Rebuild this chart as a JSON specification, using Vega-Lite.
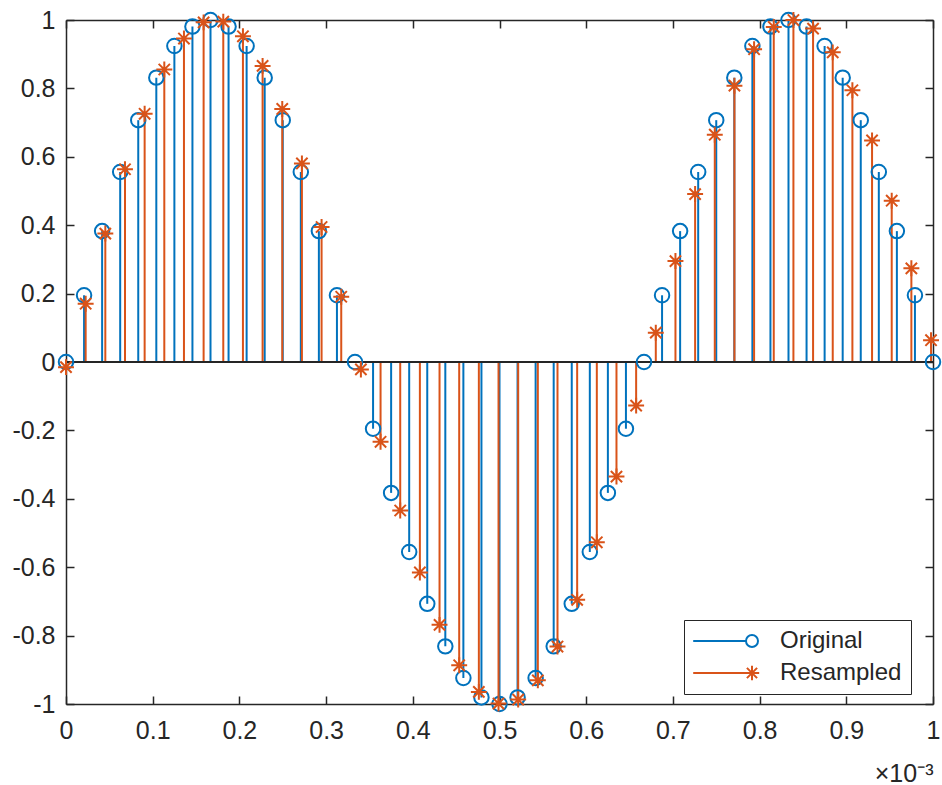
{
  "$schema": "https://vega.github.io/schema/vega-lite/v6.json",
  "width": 867,
  "height": 684,
  "autosize": "none",
  "padding": {"left": 66, "top": 20, "right": 9, "bottom": 81},
  "background": "white",
  "config": {
    "view": {"stroke": null},
    "font": "Liberation Sans",
    "axis": {
      "grid": false,
      "domainColor": "#262626",
      "domainWidth": 1.5,
      "tickColor": "#262626",
      "tickWidth": 1.5,
      "tickSize": -8,
      "labelColor": "#262626",
      "labelFont": "Liberation Sans",
      "labelFontSize": 25,
      "labelFlush": false,
      "labelOverlap": false,
      "titleColor": "#262626",
      "titleFont": "Liberation Sans",
      "titleFontWeight": "normal"
    }
  },
  "data": {
    "values": [
      {"series": "Original", "t": 0, "v": 0},
      {"series": "Original", "t": 0.020833, "v": 0.1951},
      {"series": "Original", "t": 0.041667, "v": 0.3827},
      {"series": "Original", "t": 0.0625, "v": 0.5556},
      {"series": "Original", "t": 0.083333, "v": 0.7071},
      {"series": "Original", "t": 0.104167, "v": 0.8315},
      {"series": "Original", "t": 0.125, "v": 0.9239},
      {"series": "Original", "t": 0.145833, "v": 0.9808},
      {"series": "Original", "t": 0.166667, "v": 1},
      {"series": "Original", "t": 0.1875, "v": 0.9808},
      {"series": "Original", "t": 0.208333, "v": 0.9239},
      {"series": "Original", "t": 0.229167, "v": 0.8315},
      {"series": "Original", "t": 0.25, "v": 0.7071},
      {"series": "Original", "t": 0.270833, "v": 0.5556},
      {"series": "Original", "t": 0.291667, "v": 0.3827},
      {"series": "Original", "t": 0.3125, "v": 0.1951},
      {"series": "Original", "t": 0.333333, "v": 0},
      {"series": "Original", "t": 0.354167, "v": -0.1951},
      {"series": "Original", "t": 0.375, "v": -0.3827},
      {"series": "Original", "t": 0.395833, "v": -0.5556},
      {"series": "Original", "t": 0.416667, "v": -0.7071},
      {"series": "Original", "t": 0.4375, "v": -0.8315},
      {"series": "Original", "t": 0.458333, "v": -0.9239},
      {"series": "Original", "t": 0.479167, "v": -0.9808},
      {"series": "Original", "t": 0.5, "v": -1},
      {"series": "Original", "t": 0.520833, "v": -0.9808},
      {"series": "Original", "t": 0.541667, "v": -0.9239},
      {"series": "Original", "t": 0.5625, "v": -0.8315},
      {"series": "Original", "t": 0.583333, "v": -0.7071},
      {"series": "Original", "t": 0.604167, "v": -0.5556},
      {"series": "Original", "t": 0.625, "v": -0.3827},
      {"series": "Original", "t": 0.645833, "v": -0.1951},
      {"series": "Original", "t": 0.666667, "v": 0},
      {"series": "Original", "t": 0.6875, "v": 0.1951},
      {"series": "Original", "t": 0.708333, "v": 0.3827},
      {"series": "Original", "t": 0.729167, "v": 0.5556},
      {"series": "Original", "t": 0.75, "v": 0.7071},
      {"series": "Original", "t": 0.770833, "v": 0.8315},
      {"series": "Original", "t": 0.791667, "v": 0.9239},
      {"series": "Original", "t": 0.8125, "v": 0.9808},
      {"series": "Original", "t": 0.833333, "v": 1},
      {"series": "Original", "t": 0.854167, "v": 0.9808},
      {"series": "Original", "t": 0.875, "v": 0.9239},
      {"series": "Original", "t": 0.895833, "v": 0.8315},
      {"series": "Original", "t": 0.916667, "v": 0.7071},
      {"series": "Original", "t": 0.9375, "v": 0.5556},
      {"series": "Original", "t": 0.958333, "v": 0.3827},
      {"series": "Original", "t": 0.979167, "v": 0.1951},
      {"series": "Original", "t": 1, "v": 0},
      {"series": "Resampled", "t": 0, "v": -0.015},
      {"series": "Resampled", "t": 0.022676, "v": 0.1705},
      {"series": "Resampled", "t": 0.045351, "v": 0.3755},
      {"series": "Resampled", "t": 0.068027, "v": 0.5636},
      {"series": "Resampled", "t": 0.090703, "v": 0.7257},
      {"series": "Resampled", "t": 0.113379, "v": 0.8553},
      {"series": "Resampled", "t": 0.136054, "v": 0.9458},
      {"series": "Resampled", "t": 0.15873, "v": 0.9931},
      {"series": "Resampled", "t": 0.181406, "v": 0.9953},
      {"series": "Resampled", "t": 0.204082, "v": 0.9523},
      {"series": "Resampled", "t": 0.226757, "v": 0.8658},
      {"series": "Resampled", "t": 0.249433, "v": 0.7399},
      {"series": "Resampled", "t": 0.272109, "v": 0.5806},
      {"series": "Resampled", "t": 0.294785, "v": 0.3947},
      {"series": "Resampled", "t": 0.31746, "v": 0.1908},
      {"series": "Resampled", "t": 0.340136, "v": -0.0217},
      {"series": "Resampled", "t": 0.362812, "v": -0.2333},
      {"series": "Resampled", "t": 0.385488, "v": -0.4342},
      {"series": "Resampled", "t": 0.408163, "v": -0.6153},
      {"series": "Resampled", "t": 0.430839, "v": -0.7686},
      {"series": "Resampled", "t": 0.453515, "v": -0.8868},
      {"series": "Resampled", "t": 0.47619, "v": -0.9646},
      {"series": "Resampled", "t": 0.498866, "v": -0.9986},
      {"series": "Resampled", "t": 0.521542, "v": -0.9871},
      {"series": "Resampled", "t": 0.544218, "v": -0.9308},
      {"series": "Resampled", "t": 0.566893, "v": -0.832},
      {"series": "Resampled", "t": 0.589569, "v": -0.6953},
      {"series": "Resampled", "t": 0.612245, "v": -0.5272},
      {"series": "Resampled", "t": 0.634921, "v": -0.335},
      {"series": "Resampled", "t": 0.657596, "v": -0.1275},
      {"series": "Resampled", "t": 0.680272, "v": 0.0858},
      {"series": "Resampled", "t": 0.702948, "v": 0.2951},
      {"series": "Resampled", "t": 0.725624, "v": 0.491},
      {"series": "Resampled", "t": 0.748299, "v": 0.6646},
      {"series": "Resampled", "t": 0.770975, "v": 0.808},
      {"series": "Resampled", "t": 0.793651, "v": 0.9146},
      {"series": "Resampled", "t": 0.816327, "v": 0.9795},
      {"series": "Resampled", "t": 0.839002, "v": 0.9999},
      {"series": "Resampled", "t": 0.861678, "v": 0.9748},
      {"series": "Resampled", "t": 0.884354, "v": 0.9054},
      {"series": "Resampled", "t": 0.907029, "v": 0.7946},
      {"series": "Resampled", "t": 0.929705, "v": 0.6478},
      {"series": "Resampled", "t": 0.952381, "v": 0.4716},
      {"series": "Resampled", "t": 0.975057, "v": 0.2739},
      {"series": "Resampled", "t": 0.997732, "v": 0.0637}
    ]
  },
  "resolve": {
    "axis": {"x": "independent", "y": "independent"},
    "scale": {"color": "independent", "shape": "independent"}
  },
  "layer": [
    {
      "mark": {"type": "rule", "strokeWidth": 2},
      "encoding": {
        "x": {
          "field": "t", "type": "quantitative",
          "scale": {"domain": [0, 1], "nice": false, "zero": false},
          "axis": {
            "orient": "bottom",
            "values": [0, 0.1, 0.2, 0.3, 0.4, 0.5, 0.6, 0.7, 0.8, 0.9, 1],
            "labelExpr": "'' + datum.value",
            "labelPadding": 22,
            "title": "×10⁻³",
            "titleAnchor": "end",
            "titleAlign": "right",
            "titleFontSize": 25,
            "titlePadding": 18
          }
        },
        "y": {
          "field": "v", "type": "quantitative",
          "scale": {"domain": [-1, 1], "nice": false, "zero": false},
          "axis": {
            "orient": "left",
            "values": [-1, -0.8, -0.6, -0.4, -0.2, 0, 0.2, 0.4, 0.6, 0.8, 1],
            "labelExpr": "'' + datum.value",
            "labelPadding": 19,
            "title": null
          }
        },
        "y2": {"datum": 0},
        "color": {
          "field": "series", "type": "nominal",
          "scale": {"domain": ["Original", "Resampled"], "range": ["#0072BD", "#D95319"]},
          "legend": null
        }
      }
    },
    {
      "mark": {"type": "rule", "color": "#262626", "strokeWidth": 1.5},
      "encoding": {"y": {"datum": 0, "axis": null}}
    },
    {
      "mark": {"type": "point", "filled": false, "strokeWidth": 2, "size": 210, "opacity": 1},
      "encoding": {
        "x": {
          "field": "t", "type": "quantitative",
          "axis": {
            "orient": "top",
            "values": [0, 0.1, 0.2, 0.3, 0.4, 0.5, 0.6, 0.7, 0.8, 0.9, 1],
            "labels": false,
            "title": null
          }
        },
        "y": {
          "field": "v", "type": "quantitative",
          "axis": {
            "orient": "right",
            "values": [-1, -0.8, -0.6, -0.4, -0.2, 0, 0.2, 0.4, 0.6, 0.8, 1],
            "labels": false,
            "title": null
          }
        },
        "color": {
          "field": "series", "type": "nominal",
          "scale": {"domain": ["Original", "Resampled"], "range": ["#0072BD", "#D95319"]},
          "legend": null
        },
        "shape": {
          "field": "series", "type": "nominal",
          "scale": {"domain": ["Original", "Resampled"], "range": ["circle", "M-1.1,0L1.1,0M0,-1.1L0,1.1M-0.78,-0.78L0.78,0.78M-0.78,0.78L0.78,-0.78"]},
          "legend": null
        }
      }
    },
    {
      "transform": [{"filter": "false"}],
      "mark": {"type": "point", "filled": false, "strokeWidth": 2, "opacity": 1},
      "encoding": {
        "color": {
          "field": "series", "type": "nominal",
          "scale": {"domain": ["Original", "Resampled"], "range": ["#0072BD", "#D95319"]},
          "legend": {
            "title": null,
            "orient": "none",
            "legendX": 618,
            "legendY": 600,
            "direction": "vertical",
            "strokeColor": "#262626",
            "fillColor": "white",
            "padding": 9,
            "rowPadding": 8,
            "labelFont": "Liberation Sans",
            "labelFontSize": 24,
            "labelColor": "#262626",
            "symbolSize": 144,
            "symbolStrokeWidth": 2,
            "symbolOffset": 47,
            "labelOffset": 16,
            "symbolFillColor": "transparent"
          }
        },
        "shape": {
          "field": "series", "type": "nominal",
          "scale": {"domain": ["Original", "Resampled"], "range": ["M-9.8,0L-1,0M1,0A1,1,0,1,1,-1,0A1,1,0,1,1,1,0", "M-9.8,0L1.2,0M0,-1.2L0,1.2M-0.85,-0.85L0.85,0.85M-0.85,0.85L0.85,-0.85"]}
        }
      }
    }
  ]
}
